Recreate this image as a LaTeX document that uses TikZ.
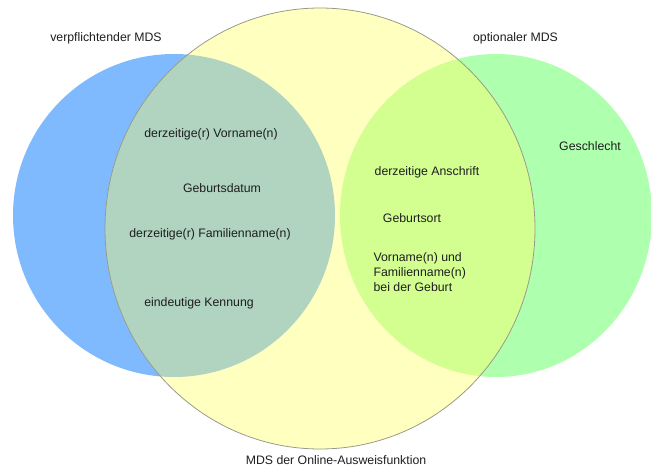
\documentclass[tikz,border=0pt]{standalone}
\usepackage{fontspec}
\setmainfont{Liberation Sans}
\definecolor{cBlue}{HTML}{7FBAFF}
\definecolor{cYellow}{HTML}{FFFFC0}
\definecolor{cGreen}{HTML}{AEFFAE}
\definecolor{cBY}{HTML}{B0D4C0}
\definecolor{cGY}{HTML}{D2FF90}
\definecolor{cEdge}{HTML}{9A9A8A}
\definecolor{cText}{HTML}{1E1E1E}
\tikzset{
  lbl/.style={inner sep=0pt, text=cText, font=\fontsize{12.3}{15}\selectfont},
  lbll/.style={lbl, anchor=west, align=left},
}
\begin{document}
\begin{tikzpicture}[x=1pt,y=-1pt]
\useasboundingbox (0,0) rectangle (651,472);
\begin{scope}
\clip (0,0) rectangle (651,472);
% base circles
\fill[cBlue] (174,215.5) ellipse[x radius=161pt, y radius=161.5pt];
\fill[cGreen] (496,215.5) ellipse[x radius=156pt, y radius=161.5pt];
\fill[cYellow] (320,228.5) ellipse[x radius=215pt, y radius=220.5pt];
% overlaps
\begin{scope}
\clip (320,228.5) ellipse[x radius=215pt, y radius=220.5pt];
\fill[cBY] (174,215.5) ellipse[x radius=161pt, y radius=161.5pt];
\fill[cGY] (496,215.5) ellipse[x radius=156pt, y radius=161.5pt];
\end{scope}
\draw[cEdge, line width=0.8pt] (320,228.5) ellipse[x radius=215pt, y radius=220.5pt];
\end{scope}
% labels
\node[lbl] (tv) at (106,38) {verpflichtender MDS};
\node[lbl] (to) at (515.5,38) {optionaler MDS};
\node[lbl] (tm) at (336,460) {MDS der Online-Ausweisfunktion};
\node[lbl] (a1) at (211,134) {derzeitige(r) Vorname(n)};
\node[lbl] (a2) at (222,188) {Geburtsdatum};
\node[lbl] (a3) at (210,234) {derzeitige(r) Familienname(n)};
\node[lbl] (a4) at (199,303) {eindeutige Kennung};
\node[lbl] (g1) at (590,146) {Geschlecht};
\node[lbl] (b1) at (427,172) {derzeitige Anschrift};
\node[lbl] (b2) at (412,218) {Geburtsort};
\node[lbll] (b3) at (373.4,271.7) {Vorname(n) und\\Familienname(n)\\bei der Geburt};
\end{tikzpicture}
\end{document}
